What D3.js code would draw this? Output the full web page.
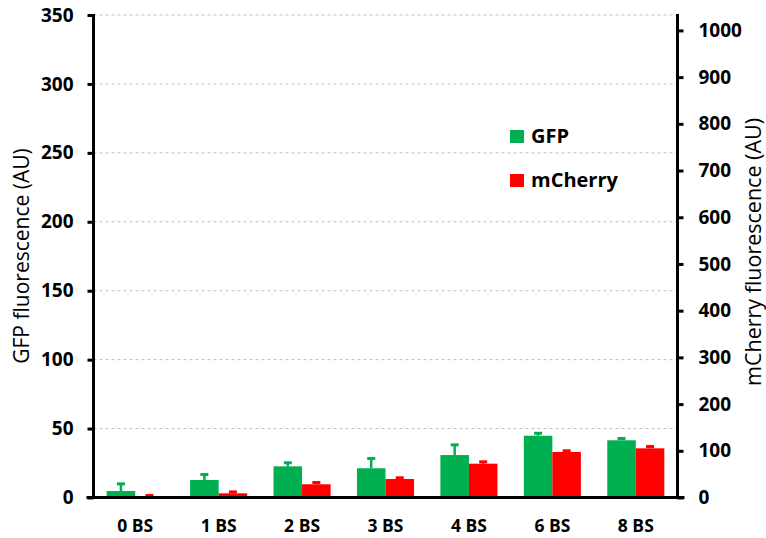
<!DOCTYPE html>
<html>
<head>
<meta charset="utf-8">
<script src="https://cdn.jsdelivr.net/npm/d3@7"></script>
<style>
  html, body { margin: 0; padding: 0; background: #fff; }
  svg { display: block; font-family: "Open Sans", "Liberation Sans", sans-serif; }
</style>
</head>
<body>
<svg id="chart" width="766" height="538"></svg>
<script>
// Construct categories (number of binding sites)
const categories = ["0 BS", "1 BS", "2 BS", "3 BS", "4 BS", "6 BS", "8 BS"];

// GFP fluorescence (left axis) with upper error
const gfpValues = [4.7, 12.7, 22.6, 21.2, 30.8, 44.8, 41.5];
const gfpErrors = [5.2, 4.0, 2.6, 7.1, 7.4, 1.8, 1.3];

// mCherry fluorescence (right axis) with upper error
const mcherryValues = [0.8, 9.0, 28.3, 39.6, 72.4, 97.4, 105.3];
const mcherryErrors = [3.5, 3.0, 3.8, 2.6, 4.0, 2.6, 3.9];

const leftTicks = [0, 50, 100, 150, 200, 250, 300, 350];
const rightTicks = [0, 100, 200, 300, 400, 500, 600, 700, 800, 900, 1000];

const seriesNames = ["GFP", "mCherry"];
const seriesColors = ["#00b050", "#ff0000"];

const svg = d3.select("#chart");
const plot = { left: 93.5, right: 677.5, top: 15, bottom: 497.5 };

const x = d3.scaleBand()
  .domain(categories)
  .range([plot.left, plot.right])
  .paddingInner(0.316)
  .paddingOuter(0.158);

const xSub = d3.scaleBand()
  .domain(seriesNames)
  .range([0, x.bandwidth()]);

const yLeft = d3.scaleLinear().domain([0, 350]).range([plot.bottom, plot.top]);
const yRight = d3.scaleLinear().domain([0, 1033]).range([plot.bottom, plot.top]);

// Dashed horizontal gridlines on the GFP scale
svg.append("g")
  .selectAll("line")
  .data(leftTicks.filter(d => d > 0))
  .join("line")
  .attr("x1", plot.left)
  .attr("x2", plot.right)
  .attr("y1", d => yLeft(d))
  .attr("y2", d => yLeft(d))
  .attr("stroke", "#bfbfbf")
  .attr("stroke-width", 1)
  .attr("stroke-dasharray", "3,3");

// Bars + upper error bars for each series
const series = [
  { name: "GFP", values: gfpValues, errors: gfpErrors, scale: yLeft, color: seriesColors[0] },
  { name: "mCherry", values: mcherryValues, errors: mcherryErrors, scale: yRight, color: seriesColors[1] }
];

series.forEach(s => {
  const g = svg.append("g");
  const rows = categories.map((c, i) => ({ c, v: s.values[i], e: s.errors[i] }));
  g.selectAll("rect")
    .data(rows)
    .join("rect")
    .attr("x", d => x(d.c) + xSub(s.name))
    .attr("width", xSub.bandwidth())
    .attr("y", d => s.scale(d.v))
    .attr("height", d => s.scale(0) - s.scale(d.v))
    .attr("fill", s.color);
  const cx = d => x(d.c) + xSub(s.name) + xSub.bandwidth() / 2;
  g.selectAll("line.stem")
    .data(rows)
    .join("line")
    .attr("class", "stem")
    .attr("x1", cx).attr("x2", cx)
    .attr("y1", d => s.scale(d.v))
    .attr("y2", d => s.scale(d.v + d.e))
    .attr("stroke", s.color)
    .attr("stroke-width", 2.5);
  g.selectAll("line.cap")
    .data(rows)
    .join("line")
    .attr("class", "cap")
    .attr("x1", d => cx(d) - 4).attr("x2", d => cx(d) + 4)
    .attr("y1", d => s.scale(d.v + d.e))
    .attr("y2", d => s.scale(d.v + d.e))
    .attr("stroke", s.color)
    .attr("stroke-width", 3);
});

// Left axis
const leftAxis = svg.append("g")
  .attr("transform", `translate(${plot.left},0)`)
  .call(d3.axisLeft(yLeft).tickValues(leftTicks).tickFormat(d3.format("d")).tickSize(6).tickPadding(14));
leftAxis.select(".domain").attr("stroke", "#000").attr("stroke-width", 3)
  .attr("d", `M0,${plot.top - 1}V${plot.bottom}`);
leftAxis.selectAll(".tick line").attr("stroke", "#000").attr("stroke-width", 3);
leftAxis.selectAll(".tick text")
  .attr("font-family", "Open Sans, sans-serif")
  .attr("font-size", 19).attr("font-weight", "bold").attr("fill", "#000");

// Right axis
const rightAxis = svg.append("g")
  .attr("transform", `translate(${plot.right},0)`)
  .call(d3.axisRight(yRight).tickValues(rightTicks).tickFormat(d3.format("d")).tickSize(6).tickPadding(15));
rightAxis.select(".domain").attr("stroke", "#000").attr("stroke-width", 3)
  .attr("d", `M0,${plot.top - 1}V${plot.bottom}`);
rightAxis.selectAll(".tick line").attr("stroke", "#000").attr("stroke-width", 3);
rightAxis.selectAll(".tick text")
  .attr("font-family", "Open Sans, sans-serif")
  .attr("font-size", 19).attr("font-weight", "bold").attr("fill", "#000");

// Bottom axis: baseline with category labels, no tick marks
const bottomAxis = svg.append("g")
  .attr("transform", `translate(0,${plot.bottom})`)
  .call(d3.axisBottom(x).tickSize(0).tickPadding(0));
bottomAxis.select(".domain").attr("stroke", "#000").attr("stroke-width", 3)
  .attr("d", `M${plot.left - 7},0H${plot.right + 7}`);
bottomAxis.selectAll(".tick text")
  .attr("y", 34)
  .attr("dy", null)
  .attr("font-family", "Open Sans, sans-serif")
  .attr("font-size", 17.5).attr("font-weight", "bold").attr("fill", "#000");

// Axis titles
svg.append("text")
  .attr("transform", `translate(29,256) rotate(-90)`)
  .attr("text-anchor", "middle")
  .attr("font-size", 21)
  .attr("fill", "#000")
  .text("GFP fluorescence (AU)");

svg.append("text")
  .attr("transform", `translate(761,252) rotate(-90)`)
  .attr("text-anchor", "middle")
  .attr("font-size", 21.5)
  .attr("fill", "#000")
  .text("mCherry fluorescence (AU)");

// Legend
const legend = svg.append("g").attr("transform", "translate(510,0)");
const legendRows = seriesNames.map((n, i) => ({ n, color: seriesColors[i], base: [143, 187][i] }));
legend.selectAll("rect")
  .data(legendRows)
  .join("rect")
  .attr("x", 0).attr("width", 14)
  .attr("y", d => d.base - 13).attr("height", 13)
  .attr("fill", d => d.color);
legend.selectAll("text")
  .data(legendRows)
  .join("text")
  .attr("x", 21)
  .attr("y", d => d.base)
  .attr("font-size", 20)
  .attr("font-weight", "bold")
  .attr("fill", "#000")
  .text(d => d.n);
</script>
</body>
</html>
